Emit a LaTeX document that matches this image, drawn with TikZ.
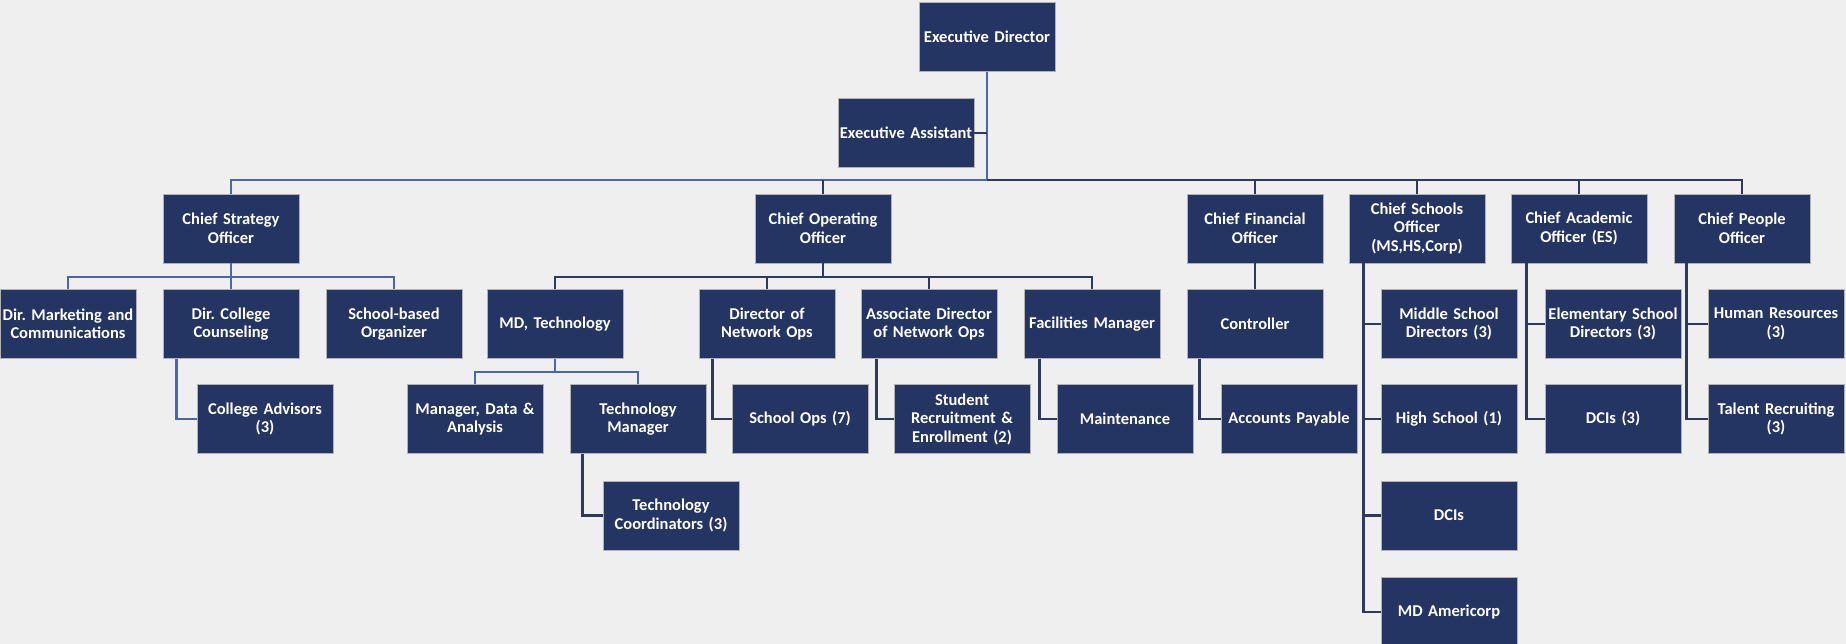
\documentclass[tikz,border=0pt]{standalone}
\usepackage{fontspec}
\setmainfont{Carlito}
\frenchspacing
\definecolor{navy}{HTML}{243463}
\definecolor{linkblue}{HTML}{4A66AC}
\definecolor{linkdark}{HTML}{2E3A59}
\definecolor{paper}{HTML}{EFEFEF}
\begin{document}
\begin{tikzpicture}[x=1pt,y=-1pt,
  post/.style={draw=gray!60,line width=0.8pt,fill=navy,text=white,
    font=\fontsize{16.5}{18.5}\selectfont\bfseries,
    minimum width=136pt,minimum height=69pt,text width=134pt,inner sep=1pt,align=center},
  bluelink/.style={draw=linkblue,line width=2.8pt},
  darklink/.style={draw=linkdark,line width=2.8pt}]
\fill [paper] (0,0) rectangle (1846,644);
\useasboundingbox (0,0) rectangle (1846,644);

\coordinate (topbus) at (987,180);
\coordinate (csobus) at (231,277);
\coordinate (coobus) at (823,277);
\coordinate (mdbus) at (555,372);

\node [post] (ed) at (987,37) {Executive Director};
\node [post] (ea) at (906,133) {Executive Assistant};

\node [post] (cso) at (231,228.5) {Chief Strategy\\Officer};
\node [post] (coo) at (823,228.5) {Chief Operating\\Officer};
\node [post] (cfo) at (1255,228.5) {Chief Financial\\Officer};
\node [post] (csch) at (1417,228.5) {Chief Schools\\Officer\\(MS,HS,Corp)};
\node [post] (cao) at (1579,228.5) {Chief Academic\\Officer (ES)};
\node [post] (cpo) at (1742,228.5) {Chief People\\Officer};

\node [post] (dirmkt) at (68,324) {Dir. Marketing and\\Communications};
\node [post] (dircc) at (231,324) {Dir. College\\Counseling};
\node [post] (schorg) at (394,324) {School-based\\Organizer};
\node [post] (mdtech) at (555,324) {MD, Technology};
\node [post] (dno) at (767,324) {Director of\\Network Ops};
\node [post] (adno) at (929,324) {Associate Director\\of Network Ops};
\node [post] (facmgr) at (1092,324) {Facilities Manager};
\node [post] (ctrl) at (1255,324) {Controller};
\node [post] (msd) at (1449,324) {Middle School\\Directors (3)};
\node [post] (esd) at (1613,324) {Elementary School\\Directors (3)};
\node [post] (hr) at (1776,324) {Human Resources\\(3)};

\node [post] (colladv) at (265,419) {College Advisors\\(3)};
\node [post] (mgrdata) at (475,419) {Manager, Data \&\\Analysis};
\node [post] (techmgr) at (638,419) {Technology\\Manager};
\node [post] (schops) at (800,419) {School Ops (7)};
\node [post] (sturec) at (962,419) {Student\\Recruitment \&\\Enrollment (2)};
\node [post] (maint) at (1125,419) {Maintenance};
\node [post] (acctpay) at (1289,419) {Accounts Payable};
\node [post] (hs) at (1449,419) {High School (1)};
\node [post] (dcisthree) at (1613,419) {DCIs (3)};
\node [post] (talent) at (1776,419) {Talent Recruiting\\(3)};

\node [post] (techcoord) at (671,515.5) {Technology\\Coordinators (3)};
\node [post] (dcis) at (1449,515.5) {DCIs};
\node [post] (mdam) at (1449,612) {MD Americorp};

\draw [bluelink] (ed) -- (topbus);
\draw [darklink] (ea) -- (ea -| ed);
\draw [bluelink] (cso) |- (topbus);
\draw [darklink] (cpo) |- (topbus);
\foreach \k in {coo,cfo,csch,cao}
  \draw [darklink] (\k) -- (\k |- topbus);

\draw [bluelink] (cso) -- (csobus);
\foreach \k in {dirmkt,dircc,schorg}
  \draw [bluelink] (\k) |- (csobus);
\draw [bluelink] ([xshift=14pt]dircc.south west) |- (colladv);

\draw [darklink] (coo) -- (coobus);
\foreach \k in {mdtech,dno,adno,facmgr}
  \draw [darklink] (\k) |- (coobus);
\draw [bluelink] (mdtech) -- (mdbus);
\foreach \k in {mgrdata,techmgr}
  \draw [bluelink] (\k) |- (mdbus);
\draw [darklink] ([xshift=13pt]techmgr.south west) |- (techcoord);
\draw [darklink] ([xshift=14pt]dno.south west) |- (schops);
\draw [darklink] ([xshift=16pt]adno.south west) |- (sturec);
\draw [darklink] ([xshift=16pt]facmgr.south west) |- (maint);

\draw [darklink] (cfo) -- (ctrl);
\draw [darklink] ([xshift=13pt]ctrl.south west) |- (acctpay);
\foreach \k in {msd,hs,dcis,mdam}
  \draw [darklink] ([xshift=15pt]csch.south west) |- (\k);
\foreach \k in {esd,dcisthree}
  \draw [darklink] ([xshift=16pt]cao.south west) |- (\k);
\foreach \k in {hr,talent}
  \draw [darklink] ([xshift=13pt]cpo.south west) |- (\k);
\end{tikzpicture}
\end{document}
